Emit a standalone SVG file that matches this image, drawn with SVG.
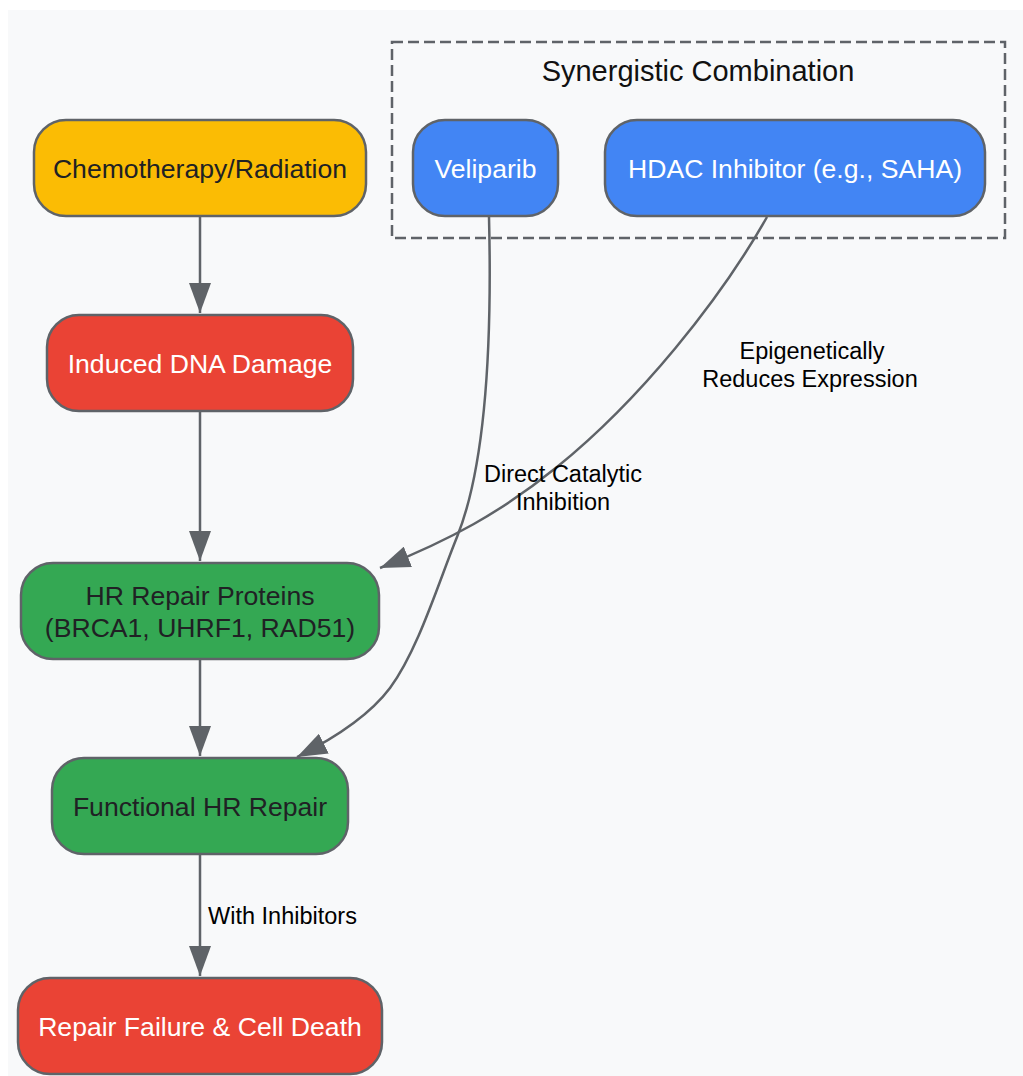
<svg xmlns="http://www.w3.org/2000/svg" width="1023" height="1076" viewBox="0 0 1023 1076">
<defs>
<style>
.node rect{stroke:#5f6368;stroke-width:2.5}
.node text{font-family:"Liberation Sans",Arial,sans-serif;font-size:26.6px;text-anchor:middle}
.dark{fill:#202124}
.light{fill:#ffffff}
.edge{fill:none;stroke:#5f6368;stroke-width:2.5}
.elabel{font-family:"Liberation Sans",Arial,sans-serif;font-size:23.5px;fill:#000000}
.title{font-family:"Liberation Sans",Arial,sans-serif;font-size:29px;fill:#111111;text-anchor:middle}
</style>
<marker id="arrow" markerUnits="userSpaceOnUse" markerWidth="30" markerHeight="22" refX="30" refY="11" orient="auto">
<path d="M0,0 L30,11 L0,22 Z" fill="#5f6368"/>
</marker>
</defs>
<rect x="0" y="0" width="1023" height="1076" fill="#ffffff"/>
<rect x="8" y="10" width="1015" height="1066" fill="#f8f9fa"/>
<g id="cluster-synergistic">
<rect x="392" y="42" width="613" height="196" fill="none" stroke="#5f6368" stroke-width="2.5" stroke-dasharray="11 5"/>
<text class="title" x="698" y="81">Synergistic Combination</text>
</g>
<g id="connectors">
<path class="edge" d="M200,216 L200,313" marker-end="url(#arrow)"/>
<path class="edge" d="M200,411 L200,561" marker-end="url(#arrow)"/>
<path class="edge" d="M200,659 L200,756" marker-end="url(#arrow)"/>
<path class="edge" d="M200,854 L200,976" marker-end="url(#arrow)"/>
<path class="edge" d="M489,217 C493,380 480,480 457,537 C438,584 418,650 390,688 C369,716 335,738 297,757" marker-end="url(#arrow)"/>
<path class="edge" d="M767,217 C720,300 640,400 557,467 C500,513 450,540 380,568" marker-end="url(#arrow)"/>
<text class="elabel" x="208" y="924">With Inhibitors</text>
<text class="elabel" x="563" y="482" text-anchor="middle">Direct Catalytic</text>
<text class="elabel" x="563" y="510" text-anchor="middle">Inhibition</text>
<text class="elabel" x="812" y="359" text-anchor="middle">Epigenetically</text>
<text class="elabel" x="810" y="387" text-anchor="middle">Reduces Expression</text>
</g>
<g id="node-chemo" class="node">
<rect x="34" y="120" width="332" height="96" rx="32" fill="#fbbc04"/>
<text class="dark" x="200" y="178">Chemotherapy/Radiation</text>
</g>
<g id="node-damage" class="node">
<rect x="47" y="315" width="306" height="96" rx="32" fill="#ea4335"/>
<text class="light" x="200" y="373">Induced DNA Damage</text>
</g>
<g id="node-hrproteins" class="node">
<rect x="21" y="563" width="358" height="96" rx="32" fill="#34a853"/>
<text class="dark" x="200" y="605">HR Repair Proteins</text>
<text class="dark" x="200" y="637">(BRCA1, UHRF1, RAD51)</text>
</g>
<g id="node-functional" class="node">
<rect x="52" y="758" width="296" height="96" rx="32" fill="#34a853"/>
<text class="dark" x="200" y="816">Functional HR Repair</text>
</g>
<g id="node-failure" class="node">
<rect x="18" y="978" width="364" height="96" rx="32" fill="#ea4335"/>
<text class="light" x="200" y="1036">Repair Failure &amp; Cell Death</text>
</g>
<g id="node-veliparib" class="node">
<rect x="413" y="120" width="145" height="96" rx="32" fill="#4285f4"/>
<text class="light" x="485.5" y="178">Veliparib</text>
</g>
<g id="node-hdac" class="node">
<rect x="605" y="120" width="380" height="96" rx="32" fill="#4285f4"/>
<text class="light" x="795" y="178">HDAC Inhibitor (e.g., SAHA)</text>
</g>
</svg>
